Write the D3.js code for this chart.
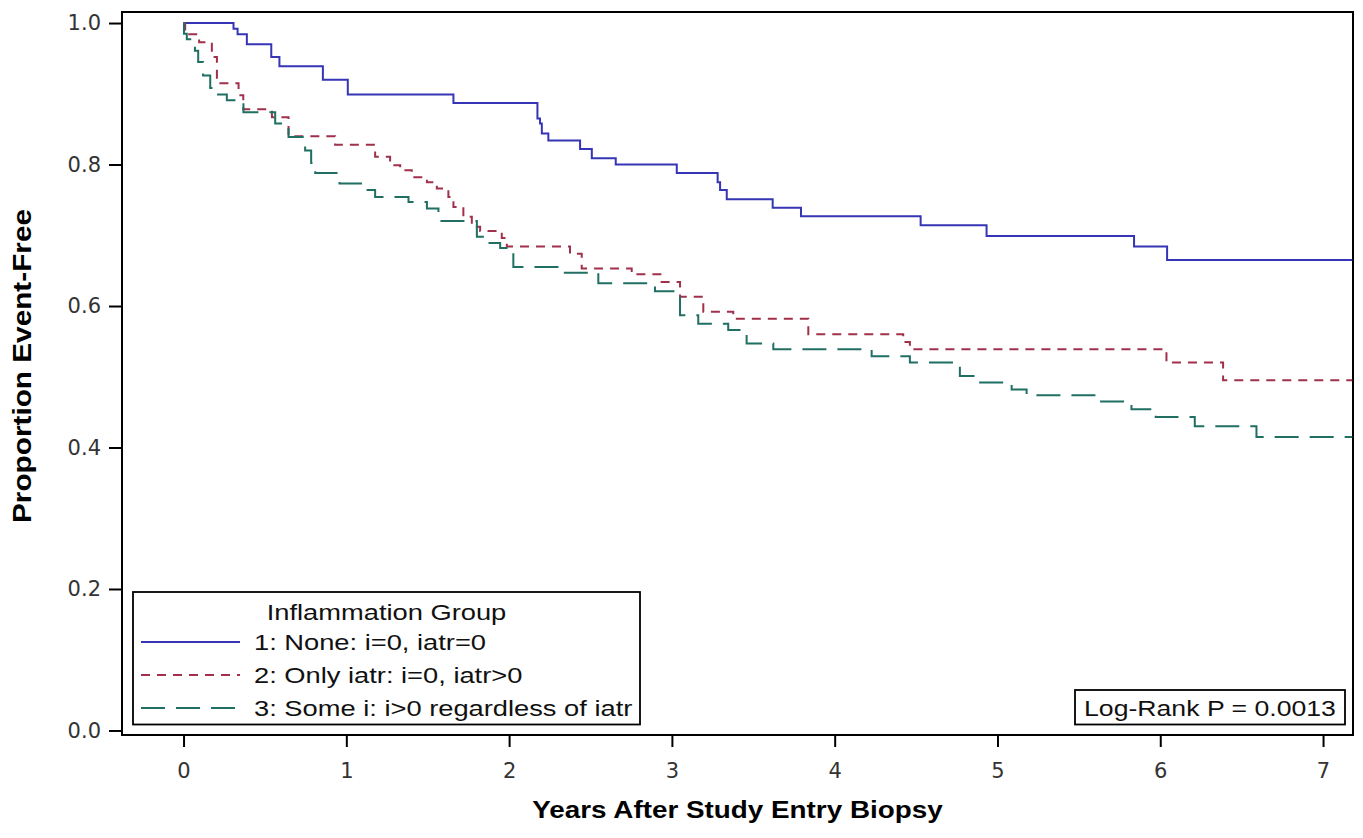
<!DOCTYPE html>
<html>
<head>
<meta charset="utf-8">
<script src="https://cdn.jsdelivr.net/npm/d3@7"></script>
<style>
  body { margin: 0; background: #fff; }
  svg { display: block; }
</style>
</head>
<body>
<div id="chart"></div>
<script>
// Kaplan-Meier estimates (years, proportion event-free)
const noneTimes = [0, 0.307, 0.332, 0.389, 0.539, 0.589, 0.856, 1.009, 1.658, 2.174, 2.190, 2.201, 2.241, 2.436, 2.508, 2.655, 3.030, 3.281, 3.296, 3.337, 3.619, 3.793, 4.528, 4.933, 5.839, 6.042, 7.18];
const noneSurv  = [1.0, 0.992, 0.984, 0.970, 0.952, 0.939, 0.920, 0.899, 0.887, 0.865, 0.858, 0.844, 0.834, 0.822, 0.809, 0.800, 0.788, 0.775, 0.764, 0.751, 0.739, 0.727, 0.714, 0.699, 0.684, 0.665, 0.665];

const iatrTimes = [0, 0.010, 0.096, 0.174, 0.205, 0.338, 0.367, 0.543, 0.645, 0.931, 1.177, 1.269, 1.331, 1.402, 1.495, 1.556, 1.627, 1.658, 1.719, 1.771, 1.822, 1.955, 1.986, 2.374, 2.446, 2.753, 2.937, 3.050, 3.193, 3.377, 3.838, 4.421, 4.462, 6.038, 6.386, 7.18];
const iatrSurv  = [1.0, 0.984, 0.973, 0.952, 0.915, 0.898, 0.878, 0.867, 0.840, 0.828, 0.811, 0.799, 0.792, 0.782, 0.775, 0.766, 0.754, 0.740, 0.726, 0.712, 0.706, 0.696, 0.684, 0.674, 0.653, 0.645, 0.634, 0.613, 0.592, 0.582, 0.560, 0.549, 0.539, 0.520, 0.495, 0.495];

const someTimes = [0, 0.003, 0.020, 0.070, 0.090, 0.120, 0.164, 0.205, 0.266, 0.368, 0.563, 0.645, 0.747, 0.784, 0.809, 0.958, 1.116, 1.177, 1.382, 1.495, 1.566, 1.802, 1.863, 1.945, 2.026, 2.313, 2.548, 2.896, 3.050, 3.162, 3.346, 3.459, 3.623, 4.227, 4.462, 4.769, 4.861, 5.087, 5.179, 5.608, 5.823, 5.972, 6.212, 6.591, 7.18];
const someSurv  = [1.0, 0.985, 0.977, 0.961, 0.945, 0.926, 0.908, 0.899, 0.891, 0.874, 0.858, 0.839, 0.820, 0.802, 0.788, 0.773, 0.764, 0.754, 0.747, 0.738, 0.720, 0.698, 0.689, 0.682, 0.655, 0.647, 0.632, 0.621, 0.587, 0.575, 0.566, 0.547, 0.539, 0.529, 0.520, 0.501, 0.492, 0.482, 0.474, 0.465, 0.454, 0.443, 0.430, 0.415, 0.415];

const groupLabels = ['1: None: i=0, iatr=0', '2: Only iatr: i=0, iatr>0', '3: Some i: i>0 regardless of iatr'];
const xTicks = [0, 1, 2, 3, 4, 5, 6, 7];
const yTicks = [0, 0.2, 0.4, 0.6, 0.8, 1.0];
const pValueText = 'Log-Rank P = 0.0013';

const svgWidth = 1363;
const svgHeight = 838;
const margin = { top: 12, right: 10, bottom: 103, left: 122 };
const chartWidth = svgWidth - margin.left - margin.right;
const chartHeight = svgHeight - margin.top - margin.bottom;

const groups = [
  { label: groupLabels[0], times: noneTimes, surv: noneSurv, color: '#3535b5', dash: null },
  { label: groupLabels[1], times: iatrTimes, surv: iatrSurv, color: '#a0304b', dash: '9,7' },
  { label: groupLabels[2], times: someTimes, surv: someSurv, color: '#1f6f62', dash: '24,11' }
];

// stretch text sideways, the SAS fonts are wide
function widen(sel, k) {
  sel.each(function() {
    const w = this.getComputedTextLength();
    d3.select(this).attr('textLength', w * k).attr('lengthAdjust', 'spacingAndGlyphs');
  });
}

const svg = d3.select('#chart').append('svg')
  .attr('width', svgWidth)
  .attr('height', svgHeight);

svg.append('rect').attr('width', svgWidth).attr('height', svgHeight).attr('fill', '#fff');

const chartGroup = svg.append('g').attr('transform', `translate(${margin.left}, ${margin.top})`);

const xScale = d3.scaleLinear().domain([-0.378, 7.184]).range([0, chartWidth]);
const yScale = d3.scaleLinear().domain([-0.0064, 1.0156]).range([chartHeight, 0]);

const leftAxis = d3.axisLeft(yScale)
  .tickValues(yTicks)
  .tickSize(13)
  .tickSizeOuter(0)
  .tickPadding(8)
  .tickFormat(d3.format('.1f'));

const bottomAxis = d3.axisBottom(xScale)
  .tickValues(xTicks)
  .tickSize(12)
  .tickSizeOuter(0)
  .tickPadding(16)
  .tickFormat(d3.format('d'));

const yAxis = chartGroup.append('g').call(leftAxis);
const xAxis = chartGroup.append('g').attr('transform', `translate(0, ${chartHeight})`).call(bottomAxis);

[xAxis, yAxis].forEach(function(ax) {
  ax.select('.domain').remove();
  ax.selectAll('line').attr('stroke', '#000').attr('stroke-width', 2);
  ax.selectAll('text')
    .attr('font-family', '"DejaVu Sans", sans-serif')
    .attr('font-size', 21)
    .attr('fill', '#333');
});

// plot frame
chartGroup.append('rect')
  .attr('x', 0)
  .attr('y', 0)
  .attr('width', chartWidth)
  .attr('height', chartHeight)
  .attr('fill', 'none')
  .attr('stroke', '#000')
  .attr('stroke-width', 2);

const stepLine = d3.line()
  .x(d => xScale(d[0]))
  .y(d => yScale(d[1]))
  .curve(d3.curveStepAfter);

chartGroup.selectAll('.km')
  .data(groups)
  .enter()
  .append('path')
  .classed('km', true)
  .attr('d', g => stepLine(g.times.map((t, i) => [t, g.surv[i]])))
  .attr('fill', 'none')
  .attr('stroke', g => g.color)
  .attr('stroke-width', 2)
  .attr('stroke-dasharray', g => g.dash);

// legend
const legend = chartGroup.append('g').attr('transform', 'translate(11, 580)');
legend.append('rect')
  .attr('width', 507)
  .attr('height', 132.5)
  .attr('fill', '#fff')
  .attr('stroke', '#000')
  .attr('stroke-width', 1.8);

legend.append('text')
  .attr('x', 253.5)
  .attr('y', 27.5)
  .attr('text-anchor', 'middle')
  .attr('font-family', '"Liberation Sans", Arial, sans-serif')
  .attr('font-size', 22)
  .attr('fill', '#111')
  .text('Inflammation Group')
  .call(widen, 1.24);

const legendRows = legend.selectAll('.row')
  .data(groups)
  .enter()
  .append('g')
  .classed('row', true)
  .attr('transform', (d, i) => `translate(0, ${50 + i * 33})`);

legendRows.append('line')
  .attr('x1', 8)
  .attr('x2', 107)
  .attr('stroke', d => d.color)
  .attr('stroke-width', 2)
  .attr('stroke-dasharray', d => d.dash);

legendRows.append('text')
  .attr('x', 121)
  .attr('y', 8)
  .attr('font-family', '"Liberation Sans", Arial, sans-serif')
  .attr('font-size', 22)
  .attr('fill', '#111')
  .text(d => d.label)
  .call(widen, 1.24);

// log-rank inset
const pBox = chartGroup.append('g').attr('transform', `translate(953, 678)`);
pBox.append('rect')
  .attr('width', 270)
  .attr('height', 34.5)
  .attr('fill', '#fff')
  .attr('stroke', '#000')
  .attr('stroke-width', 1.8);
pBox.append('text')
  .attr('x', 135)
  .attr('y', 25.5)
  .attr('text-anchor', 'middle')
  .attr('font-family', '"Liberation Sans", Arial, sans-serif')
  .attr('font-size', 22)
  .attr('fill', '#111')
  .text(pValueText)
  .call(widen, 1.21);

// axis titles
svg.append('text')
  .attr('x', margin.left + chartWidth / 2)
  .attr('y', 818)
  .attr('text-anchor', 'middle')
  .attr('font-family', '"Liberation Sans", Arial, sans-serif')
  .attr('font-weight', 'bold')
  .attr('font-size', 23)
  .attr('fill', '#000')
  .text('Years After Study Entry Biopsy')
  .call(widen, 1.21);

svg.append('text')
  .attr('transform', 'translate(31, 366) rotate(-90)')
  .attr('text-anchor', 'middle')
  .attr('font-family', '"Liberation Sans", Arial, sans-serif')
  .attr('font-weight', 'bold')
  .attr('font-size', 25)
  .attr('fill', '#000')
  .text('Proportion Event-Free')
  .call(widen, 1.19);
</script>
</body>
</html>
